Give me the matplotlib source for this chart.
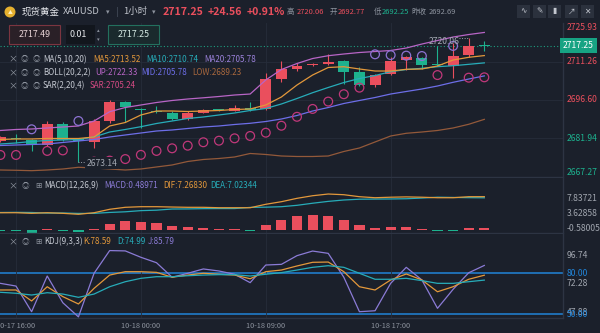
import numpy as np
import matplotlib
matplotlib.use("Agg")
import matplotlib.pyplot as plt
from matplotlib.patches import Rectangle, Ellipse

plt.rcParams['font.family'] = ['Noto Sans CJK SC', 'DejaVu Sans']

# 1 hour bars, 10-17 15:00 ... 10-18 23:00 (index 0 = 10-17 16:00)
bar_index = list(range(-1, 31))
opens = [2681.0, 2682.1, 2681.4, 2679.4, 2687.3, 2681.6, 2680.6, 2688.7, 2695.7, 2693.3,
         2692.3, 2691.8, 2689.5, 2691.8, 2692.9, 2692.6, 2693.7, 2693.2, 2704.5, 2708.3,
         2709.8, 2710.3, 2711.5, 2707.4, 2702.3, 2706.4, 2711.9, 2712.6, 2710.2, 2709.7,
         2713.8, 2717.5]
highs = [2683.0, 2683.6, 2681.8, 2688.6, 2688.2, 2682.0, 2689.3, 2696.6, 2696.3, 2693.6,
         2694.3, 2692.3, 2692.3, 2693.2, 2693.3, 2694.6, 2696.0, 2706.8, 2711.6, 2710.6,
         2710.8, 2714.0, 2711.8, 2709.3, 2706.5, 2712.8, 2713.3, 2713.0, 2717.3, 2718.2,
         2720.06, 2719.1]
lows = [2680.5, 2680.3, 2677.3, 2679.0, 2680.8, 2673.14, 2678.2, 2687.7, 2688.3, 2686.1,
        2691.5, 2689.0, 2689.0, 2691.5, 2692.4, 2692.3, 2692.5, 2692.8, 2703.6, 2707.8,
        2709.5, 2710.0, 2702.6, 2702.0, 2701.7, 2706.0, 2708.0, 2708.4, 2709.5, 2705.1,
        2712.9, 2715.3]
closes = [2682.4, 2681.8, 2679.4, 2687.5, 2681.4, 2681.0, 2688.6, 2695.7, 2694.0, 2692.9,
          2692.0, 2689.4, 2691.8, 2692.8, 2692.7, 2693.7, 2692.8, 2704.5, 2708.3, 2709.7,
          2710.2, 2711.2, 2707.4, 2702.3, 2706.1, 2711.5, 2712.8, 2709.9, 2709.8, 2713.5,
          2717.2, 2717.25]

ma5 = [2681.56, 2681.75, 2681.75, 2681.94, 2681.94, 2681.94, 2682.51, 2686.70, 2688.03, 2690.89,
       2692.41, 2692.41, 2692.22, 2692.41, 2692.60, 2692.98, 2693.17, 2694.70, 2697.74, 2702.31,
       2706.12, 2708.98, 2709.28, 2708.41, 2707.64, 2707.64, 2708.29, 2708.41, 2709.55, 2711.83,
       2712.86, 2713.52]
ma10 = [2679.84, 2680.23, 2680.80, 2681.18, 2681.37, 2681.56, 2682.51, 2684.41, 2685.37, 2686.43,
        2687.65, 2688.60, 2689.56, 2690.13, 2690.89, 2691.65, 2692.60, 2693.36, 2695.08, 2697.17,
        2699.38, 2701.36, 2703.26, 2704.79, 2705.93, 2707.38, 2708.21, 2708.67, 2709.28, 2709.66,
        2710.19, 2710.74]
boll_up = [2684.99, 2685.37, 2685.56, 2685.94, 2686.32, 2686.70, 2688.60, 2692.14, 2693.74, 2694.70,
           2695.65, 2696.41, 2696.98, 2697.44, 2697.93, 2698.50, 2698.88, 2704.22, 2708.21, 2710.50,
           2712.40, 2713.47, 2714.12, 2714.69, 2715.07, 2715.45, 2716.40, 2717.92, 2719.26, 2720.59,
           2721.54, 2722.33]
boll_mid = [2679.27, 2679.46, 2679.65, 2679.84, 2680.42, 2680.99, 2681.56, 2682.51, 2683.27, 2684.03,
            2684.79, 2685.18, 2685.75, 2686.32, 2686.70, 2687.27, 2687.73, 2688.41, 2689.36, 2690.70,
            2692.41, 2693.74, 2695.27, 2696.41, 2697.55, 2698.88, 2699.84, 2700.79, 2701.93, 2703.34,
            2704.59, 2705.78]
boll_low = [2669.94, 2669.83, 2669.68, 2669.94, 2670.32, 2670.97, 2670.71, 2670.32, 2669.94, 2670.32,
            2671.09, 2671.85, 2673.18, 2673.94, 2674.32, 2674.89, 2676.23, 2675.85, 2675.27, 2675.08,
            2675.08, 2675.27, 2676.99, 2678.32, 2680.61, 2682.89, 2683.92, 2684.41, 2684.99, 2685.94,
            2687.35, 2689.23]
sar = [2675.66, 2675.66, 2685.44, 2677.2, 2677.4, 2688.6, 2673.14, 2673.5, 2674.1, 2675.7,
       2677.2, 2678.2, 2679.2, 2680.5, 2681.1, 2682.0, 2682.9, 2684.15, 2686.8, 2690.2,
       2693.2, 2696.0, 2698.8, 2701.3, 2714.0, 2713.7, 2713.5, 2713.35, 2706.1, 2717.2,
       2705.1, 2705.24]

dif = [3.80, 3.80, 3.67, 3.80, 3.67, 3.46, 3.80, 4.54, 4.97, 5.10,
       5.10, 5.03, 4.97, 4.97, 4.88, 4.88, 4.88, 5.62, 6.18, 6.91,
       7.47, 7.84, 7.69, 7.26, 7.04, 7.15, 7.22, 7.15, 7.04, 7.04,
       7.26, 7.2683]
dea = [3.85, 3.88, 3.85, 3.72, 3.74, 3.65, 3.66, 3.86, 4.00, 4.25,
       4.35, 4.60, 4.62, 4.68, 4.70, 4.70, 4.95, 5.00, 5.10, 5.40,
       5.85, 6.25, 6.55, 6.72, 6.75, 6.77, 6.82, 6.97, 7.15, 7.10,
       7.05, 7.02344]
macd = [-0.22, -0.22, -0.50, 0.22, -0.15, -0.43, 0.28, 1.36, 1.94, 1.73,
        1.58, 0.86, 0.71, 0.58, 0.37, 0.37, -0.15, 1.23, 2.16, 3.02,
        3.24, 3.17, 2.31, 1.08, 0.58, 0.80, 0.80, 0.37, -0.22, -0.15,
        0.43, 0.48971]

kdj_k = [67.7, 67.7, 59.6, 70.1, 62.8, 57.4, 68.9, 78.7, 81.2, 81.2,
         80.7, 77.1, 78.7, 80.0, 79.3, 78.7, 76.0, 81.2, 82.4, 85.4,
         88.1, 88.3, 81.2, 70.1, 67.7, 75.1, 79.5, 75.1, 66.4, 70.1,
         75.6, 78.59]
kdj_d = [66.0, 65.3, 64.0, 65.7, 64.7, 62.3, 64.7, 70.1, 73.8, 76.3,
         77.5, 77.5, 78.2, 78.7, 79.0, 79.0, 78.0, 79.3, 80.5, 82.4,
         84.4, 85.6, 84.4, 80.0, 75.6, 75.6, 76.3, 74.6, 72.6, 72.6,
         73.8, 74.99]
kdj_j = [72.6, 70.6, 51.7, 78.0, 58.3, 47.88, 80.0, 96.74, 96.5, 91.8,
         87.8, 77.1, 80.0, 83.2, 81.7, 79.3, 73.1, 86.1, 86.6, 93.0,
         96.4, 94.7, 77.1, 51.7, 52.4, 72.6, 84.4, 75.1, 54.2, 68.2,
         80.4, 85.79]

time_ticks = [0, 8, 16, 24]
time_labels = ['10-17 16:00', '10-18 00:00', '10-18 09:00', '10-18 17:00']
price_ticks = [2725.93, 2711.26, 2696.60, 2681.94, 2667.27]
macd_ticks = [7.83721, 3.62858, -0.58005]
kdj_ticks = [96.74, 80.00, 72.28, 50.00, 47.88]
prev_close = 2692.69

# colours
BG = '#1b202b'
GRID = '#262d3a'
EDGE = '#2d3443'
TXT = '#c5c9d2'
GREY = '#8d939e'
RED = '#ea4f5d'
GREEN = '#1db18e'
C_MA5 = '#e3983b'
C_MA10 = '#27acb9'
C_MA20 = '#9b82db'
C_UP = '#b865c6'
C_MID = '#6d6ee8'
C_LOW = '#93593a'
C_SAR = '#c0387a'
C_SAR2 = '#8c72d2'
C_J = '#8b7bd6'
BLUE = '#2184d8'

W, H = 600, 333
fig = plt.figure(figsize=(6, 3.33), dpi=100, facecolor=BG)


def fx(x):
    return x / W


def fy(y):
    return 1 - y / H


def panel(top, bottom):
    ax = fig.add_axes([0, fy(bottom), 563 / W, (bottom - top) / H])
    ax.set_facecolor(BG)
    ax.set_xlim(-1.025, 35.04)
    for s in ['top', 'left']:
        ax.spines[s].set_visible(False)
    for s in ['bottom', 'right']:
        ax.spines[s].set_color(EDGE)
        ax.spines[s].set_linewidth(1)
    ax.set_xticks(time_ticks)
    ax.set_yticks([])
    ax.tick_params(length=0, labelbottom=False, labelleft=False)
    ax.grid(axis='x', color=GRID, lw=0.6)
    return ax


def rlabel(ax, v, s, color, va='center'):
    ax.text(1.006, v, s, transform=ax.get_yaxis_transform(), color=color,
            fontsize=6.2, va=va, ha='left', clip_on=False)


x = np.array(bar_index)
o, h, l, c = map(np.array, (opens, highs, lows, closes))

# ---- main panel
ax = panel(23, 177)
ax.set_ylim(price_ticks[-1], price_ticks[0])
ax.set_yticks(price_ticks[1:4])
ax.grid(axis='y', color=GRID, lw=0.6)

cols = np.where(c >= o, RED, GREEN)
ax.vlines(x, l, h, colors=cols, lw=0.8, zorder=2)
ax.bar(x, np.maximum(np.abs(c - o), 0.35), bottom=np.minimum(o, c), width=0.7,
       color=cols, zorder=2)

ax.plot(x, boll_up, color=C_UP, lw=0.9, zorder=3)
ax.plot(x, boll_low, color=C_LOW, lw=0.9, zorder=3)
ax.plot(x, ma10, color=C_MA10, lw=0.9, zorder=3)
ax.plot(x, boll_mid, color=C_MID, lw=0.9, zorder=3)
ax.plot(x, ma5, color=C_MA5, lw=0.9, zorder=3)

sar_cols = np.where(np.array(sar) > c, C_SAR2, C_SAR)
ax.scatter(x, sar, s=40, facecolors='none', edgecolors=sar_cols, linewidths=0.9, zorder=4)

ax.axhline(closes[-1], color='#1d9e80', lw=0.8, ls=(0, (1, 2)), zorder=1)

# high / low markers
hi = int(np.argmax(h))
lo = int(np.argmin(l))
ax.plot([x[hi] - 0.6, x[hi]], [h[hi], h[hi]], color='#9aa0aa', lw=0.7, ls=':', zorder=5)
ax.text(x[hi] - 0.62, h[hi] - 1.0, f'{h[hi]:.2f}', color='#a3a8b2', fontsize=6.2,
        ha='right', va='center', zorder=5)
ax.plot([x[lo], x[lo] + 0.45], [l[lo], l[lo]], color='#9aa0aa', lw=0.7, ls=':', zorder=5)
ax.text(x[lo] + 0.5, l[lo] - 0.6, f'{l[lo]:.2f}', color='#a3a8b2', fontsize=6.2,
        ha='left', va='center', zorder=6,
        bbox=dict(boxstyle='square,pad=0.15', fc=BG, ec='none'))

for i, v in enumerate(price_ticks):
    va = 'top' if i == 0 else ('bottom' if i == len(price_ticks) - 1 else 'center')
    rlabel(ax, v, f'{v:.2f}', RED if v > prev_close else GREEN, va)
ax.text(1.0, closes[-1], f'{closes[-1]:.2f}', transform=ax.get_yaxis_transform(),
        color='white', fontsize=6.2, va='center', ha='left', clip_on=False, zorder=7,
        bbox=dict(boxstyle='square,pad=0.35', fc='#17a383', ec='none'))

# ---- MACD panel
axm = panel(178, 233)
axm.set_ylim(macd_ticks[-1], 11.3)
mc = np.where(np.array(macd) >= 0, RED, GREEN)
axm.bar(x, macd, width=0.65, color=mc, zorder=2)
axm.plot(x, dea, color=C_MA10, lw=0.9, zorder=3)
axm.plot(x, dif, color=C_MA5, lw=0.9, zorder=3)
for i, v in enumerate(macd_ticks):
    va = 'top' if i == 0 else ('bottom' if i == len(macd_ticks) - 1 else 'center')
    rlabel(axm, v, f'{v:.5f}', '#a0a5ae', va)

# ---- KDJ panel
axk = panel(234, 318)
axk.set_ylim(47.06, 108.96)
axk.axhline(80, color=BLUE, lw=1.1, zorder=1)
axk.axhline(50, color=BLUE, lw=1.1, zorder=1)
axk.plot(x, kdj_j, color=C_J, lw=0.9, zorder=3)
axk.plot(x, kdj_k, color=C_MA5, lw=0.9, zorder=3)
axk.plot(x, kdj_d, color=C_MA10, lw=0.9, zorder=3)
# 47.88 sits right under the 50.00 label, as on the source chart
rlabel(axk, kdj_ticks[0], f'{kdj_ticks[0]:.2f}', '#a0a5ae', 'top')
rlabel(axk, kdj_ticks[4], f'{kdj_ticks[4]:.2f}', '#a0a5ae', 'bottom')
rlabel(axk, kdj_ticks[2], f'{kdj_ticks[2]:.2f}', '#a0a5ae')
rlabel(axk, kdj_ticks[1], f'{kdj_ticks[1]:.2f}', BLUE)
rlabel(axk, kdj_ticks[3], f'{kdj_ticks[3]:.2f}', BLUE)
axk.tick_params(labelbottom=True, pad=3, labelsize=5.3, labelcolor=GREY)
axk.set_xticklabels(time_labels)


def T(px, py, s, color=TXT, size=5.8, **kw):
    fig.text(fx(px), fy(py), s, color=color, fontsize=size, va='center', **kw)


# ---- top bar
fig.add_artist(Ellipse((fx(10), fy(12)), 11 / W, 11 / H, transform=fig.transFigure,
                       fc='#e6b12f', ec='none'))
T(10, 12, '▲', '#fff3c8', 3.5, ha='center')
T(22, 11.7, '现货黄金', '#e8eaee', 6.8)
T(63, 11.7, 'XAUUSD', '#c0c4cc', 6.8)
T(106, 11.7, '▾', GREY, 5)
T(116, 11.7, '|', '#4e5563', 6.8)
T(123, 11.7, '1小时', '#c0c4cc', 6.8)
T(152, 11.7, '▾', GREY, 5)
T(163, 11.7, f'{closes[-1]:.2f}', RED, 7.6, fontweight='bold')
T(208, 11.7, '+24.56', RED, 7.6, fontweight='bold')
T(247, 11.7, '+0.91%', RED, 7.6, fontweight='bold')
T(287, 11.7, '高', GREY, 5.4)
T(297, 11.7, f'{max(highs):.2f}', RED, 5.4)
T(330, 11.7, '开', GREY, 5.4)
T(338, 11.7, '2692.77', RED, 5.4)
T(374, 11.7, '低', GREY, 5.4)
T(382, 11.7, '2692.25', GREEN, 5.4)
T(411, 11.7, '昨收', GREY, 5.4)
T(429, 11.7, f'{prev_close:.2f}', GREY, 5.4)

for bx, glyph in zip([517, 533, 548, 565, 581], ['∿', '✎', '▮', '↗', '✕']):
    fig.add_artist(Rectangle((fx(bx), fy(18)), 13 / W, 13 / H, transform=fig.transFigure,
                             fc='#2b313d', ec='none'))
    T(bx + 6.5, 11.5, glyph, '#c3c7cf', 5.5, ha='center')

# order boxes
fig.add_artist(Rectangle((fx(9), fy(44)), 51 / W, 19 / H, transform=fig.transFigure,
                         fc='#2a2027', ec='#7c3540', lw=0.8))
T(34.5, 34.5, '2717.49', '#e6d2d4', 6.4, ha='center')
fig.add_artist(Rectangle((fx(66), fy(44)), 29 / W, 19 / H, transform=fig.transFigure,
                         fc='#12161d', ec='none'))
T(78, 34.5, '0.01', '#e8eaee', 6.4, ha='center')
T(98, 30.5, '▴', GREY, 3.8, ha='center')
T(98, 40, '▾', GREY, 3.8, ha='center')
fig.add_artist(Rectangle((fx(108), fy(44)), 51 / W, 19 / H, transform=fig.transFigure,
                         fc='#1a2a2d', ec='#23705e', lw=0.8))
T(133.5, 34.5, f'{closes[-1]:.2f}', '#d3e8e2', 6.4, ha='center')

# ---- indicator legends
rows = [
    (59.3, [('MA(5,10,20)', 43, TXT), (f'MA5:{ma5[-1]:.2f}', 93, C_MA5),
            (f'MA10:{ma10[-1]:.2f}', 146, C_MA10), (f'MA20:{boll_mid[-1]:.2f}', 204, C_MA20)]),
    (72.7, [('BOLL(20,2,2)', 43, TXT), (f'UP:{boll_up[-1]:.2f}', 95, C_UP),
            (f'MID:{boll_mid[-1]:.2f}', 141, C_MID), (f'LOW:{boll_low[-1]:.2f}', 192, '#a9683e')]),
    (86.0, [('SAR(2,20,4)', 43, TXT), (f'SAR:{sar[-1]:.2f}', 90, '#d44a83')]),
]
for ry, items in rows:
    T(13, ry, '×', GREY, 6.5, ha='center')
    T(24, ry, '◎', GREY, 5.5, ha='center')
    T(36, ry, '◎', GREY, 5.5, ha='center')
    for s, px, col in items:
        T(px, ry, s, col)

sub_rows = [
    (186, [('MACD(12,26,9)', 44, TXT), (f'MACD:{macd[-1]:.5f}', 104, C_J),
           (f'DIF:{dif[-1]:.5f}', 163, C_MA5), (f'DEA:{dea[-1]:.5f}', 210, C_MA10)]),
    (242, [('KDJ(9,3,3)', 44, TXT), (f'K:{kdj_k[-1]:.2f}', 83, C_MA5),
           (f'D:{kdj_d[-1]:.2f}', 117, C_MA10), (f'J:{kdj_j[-1]:.2f}', 148, C_J)]),
]
for ry, items in sub_rows:
    T(13, ry, '×', GREY, 6.5, ha='center')
    T(25, ry, '◎', GREY, 5.5, ha='center')
    T(38, ry, '⊞', GREY, 5.5, ha='center')
    for s, px, col in items:
        T(px, ry, s, col)

fig.savefig('out.png', dpi=100, facecolor=BG)
